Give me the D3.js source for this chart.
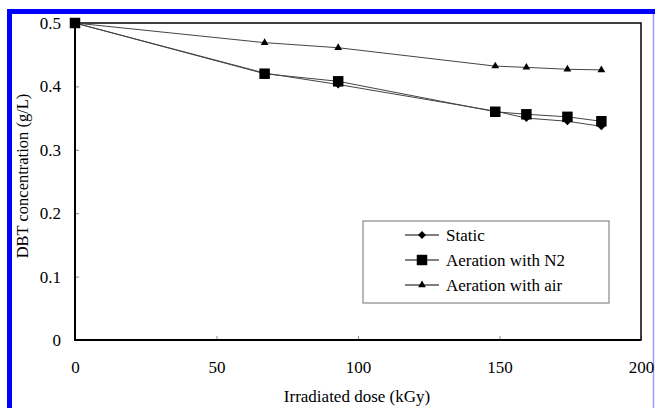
<!DOCTYPE html>
<html>
<head>
<meta charset="utf-8">
<script src="https://cdn.jsdelivr.net/npm/d3@7"></script>
<style>
  body { margin: 0; background: #fff; }
  svg { display: block; }
</style>
</head>
<body>
<div id="chart"></div>
<script>
const doses = [0, 67, 93, 148.5, 159.5, 174, 186]
const staticValues = [0.5, 0.421, 0.403, 0.361, 0.350, 0.345, 0.337]
const n2Values = [0.5, 0.420, 0.408, 0.360, 0.356, 0.352, 0.345]
const airValues = [0.5, 0.469, 0.461, 0.432, 0.430, 0.427, 0.426]
const xTicks = [0, 50, 100, 150, 200]
const yTicks = [0, 0.1, 0.2, 0.3, 0.4, 0.5]
const seriesNames = ['Static', 'Aeration with N2', 'Aeration with air']

const width = 655
const height = 408
const margin = { top: 23, right: 13, bottom: 68, left: 75 }
const fontSize = 17
const serif = 'Liberation Serif'

const svg = d3.select('#chart')
  .append('svg')
  .attr('width', width)
  .attr('height', height)
  .attr('font-family', serif)

// blue frame round the figure
svg.append('rect').attr('x', 7).attr('y', 9).attr('width', 5).attr('height', height - 9).attr('fill', '#0000ff')
svg.append('rect').attr('x', 7).attr('y', 9).attr('width', width - 7).attr('height', 5).attr('fill', '#0000ff')
svg.append('line').attr('x1', 653.5).attr('x2', 653.5).attr('y1', 14).attr('y2', height)
  .attr('stroke', '#9a9aff').attr('stroke-width', 1.5)

const x = d3.scaleLinear().domain([0, 200]).range([margin.left, width - margin.right - 1])
const y = d3.scaleLinear().domain([0, 0.5]).range([height - margin.bottom, margin.top])

const xAxis = g => g
  .attr('transform', `translate(0,${y(0)})`)
  .call(d3.axisBottom(x).tickValues(xTicks).tickFormat(d3.format('d')).tickSize(-4).tickPadding(21))

const yAxis = g => g
  .attr('transform', `translate(${x(0)},0)`)
  .call(d3.axisLeft(y).tickValues(yTicks).tickFormat(d => d === 0 ? '0' : d3.format('.1f')(d)).tickSize(-4).tickPadding(14))

svg.append('g').attr('class', 'x').call(xAxis)
svg.append('g').attr('class', 'y').call(yAxis)

svg.selectAll('g.x, g.y').attr('font-family', serif).attr('font-size', fontSize)
svg.selectAll('.tick line').attr('stroke', '#888')
svg.selectAll('.tick text').attr('fill', '#000')
svg.selectAll('.domain').remove()

// plot frame
svg.append('rect')
  .attr('x', x(0)).attr('y', y(0.5))
  .attr('width', x(200) - x(0)).attr('height', y(0) - y(0.5))
  .attr('fill', 'none').attr('stroke', '#000').attr('stroke-width', 1.5)
svg.append('line').attr('x1', x(0)).attr('x2', x(0)).attr('y1', y(0.5)).attr('y2', y(0) + 1)
  .attr('stroke', '#000').attr('stroke-width', 2)
svg.append('line').attr('x1', x(0) - 1).attr('x2', x(200)).attr('y1', y(0)).attr('y2', y(0))
  .attr('stroke', '#000').attr('stroke-width', 2)

svg.append('text')
  .attr('x', 357).attr('y', 402)
  .attr('text-anchor', 'middle').attr('font-size', fontSize)
  .text('Irradiated dose (kGy)')

svg.append('text')
  .attr('transform', 'translate(28,176) rotate(-90)')
  .attr('text-anchor', 'middle').attr('font-size', 16.5)
  .text('DBT concentration (g/L)')

// a true diamond: square turned 45 degrees
const diamond = {
  draw(context, size) {
    const r = Math.sqrt(size / 2)
    context.moveTo(0, -r)
    context.lineTo(r, 0)
    context.lineTo(0, r)
    context.lineTo(-r, 0)
    context.closePath()
  }
}

const series = [
  { name: seriesNames[0], values: staticValues, symbol: diamond, size: 32 },
  { name: seriesNames[1], values: n2Values, symbol: d3.symbolSquare, size: 110 },
  { name: seriesNames[2], values: airValues, symbol: d3.symbolTriangle, size: 26 }
]

const line = d3.line().x(d => x(d[0])).y(d => y(d[1]))

const lines = svg.append('g').attr('class', 'lines')
series.forEach(s => {
  const pts = doses.map((d, i) => [d, s.values[i]])
  lines.append('path')
    .datum(pts)
    .attr('d', line)
    .attr('fill', 'none')
    .attr('stroke', '#444')
    .attr('stroke-width', 1)
})

const marks = svg.append('g').attr('class', 'marks')
series.forEach(s => {
  marks.selectAll(null)
    .data(doses.map((d, i) => [d, s.values[i]]))
    .join('path')
    .attr('transform', d => `translate(${x(d[0])},${y(d[1])})`)
    .attr('d', d3.symbol(s.symbol, s.size))
    .attr('fill', '#000')
})

// legend
const legend = svg.append('g').attr('transform', 'translate(363,221)')
legend.append('rect')
  .attr('width', 246).attr('height', 82)
  .attr('fill', '#fff').attr('stroke', '#888').attr('stroke-width', 1.2)

series.forEach((s, i) => {
  const row = legend.append('g').attr('transform', `translate(0,${14 + i * 25})`)
  row.append('line').attr('x1', 42).attr('x2', 76).attr('stroke', '#000').attr('stroke-width', 1)
  row.append('path').attr('transform', 'translate(59,0)')
    .attr('d', d3.symbol(s.symbol, s.size)).attr('fill', '#000')
  row.append('text').attr('x', 83).attr('dy', '0.35em').attr('font-size', fontSize).text(s.name)
})
</script>
</body>
</html>
